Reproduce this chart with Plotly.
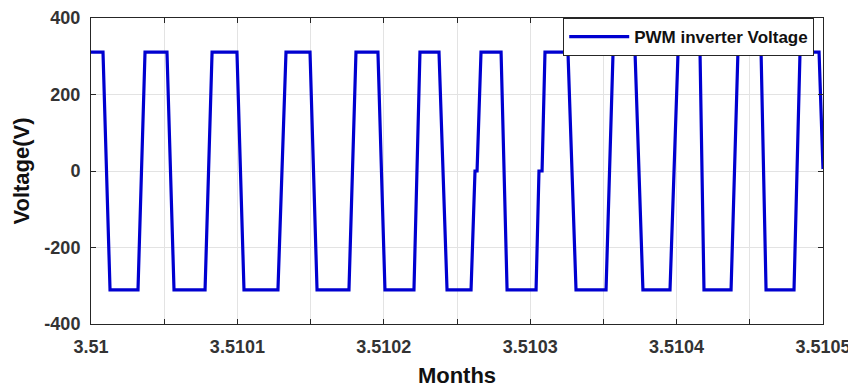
import plotly.graph_objects as go

# Time (months) and voltage samples of the PWM inverter output
months = [
    3.5100000, 3.5100082, 3.5100130, 3.5100321, 3.5100369, 3.5100519,
    3.5100567, 3.5100779, 3.5100827, 3.5100997, 3.5101045, 3.5101277,
    3.5101332, 3.5101496, 3.5101544, 3.5101762, 3.5101810, 3.5101960,
    3.5102008, 3.5102206, 3.5102247, 3.5102377, 3.5102432, 3.5102596,
    3.5102623, 3.5102637, 3.5102664, 3.5102801, 3.5102842, 3.5103040,
    3.5103060, 3.5103081, 3.5103101, 3.5103258, 3.5103313, 3.5103518,
    3.5103566, 3.5103716, 3.5103770, 3.5103955, 3.5104010, 3.5104160,
    3.5104187, 3.5104372, 3.5104419, 3.5104577, 3.5104611, 3.5104802,
    3.5104843, 3.5104973, 3.5105000,
]
voltage = [
    311, 311, -311, -311, 311, 311,
    -311, -311, 311, 311, -311, -311,
    311, 311, -311, -311, 311, 311,
    -311, -311, 311, 311, -311, -311,
    0, 0, 311, 311, -311, -311,
    0, 0, 311, 311, -311, -311,
    311, 311, -311, -311, 311, 311,
    -311, -311, 311, 311, -311, -311,
    311, 311, 5,
]

x_tickvals = [3.51, 3.51005, 3.5101, 3.51015, 3.5102, 3.51025, 3.5103,
              3.51035, 3.5104, 3.51045, 3.5105]
x_ticktext = ["3.51", "", "3.5101", "", "3.5102", "", "3.5103", "",
              "3.5104", "", "3.5105"]
y_tickvals = [-400, -200, 0, 200, 400]
y_ticktext = ["-400", "-200", "0", "200", "400"]

series_name = "PWM inverter Voltage"

fig = go.Figure()
fig.add_trace(go.Scatter(
    x=months, y=voltage, mode="lines", name=series_name,
    line=dict(color="#0000d0", width=3.2),
))

axis_common = dict(
    showline=True, linecolor="#262626", linewidth=1, mirror="ticks",
    ticks="inside", ticklen=5, tickcolor="#262626",
    showgrid=True, gridcolor="#e3e3e3", gridwidth=1,
    zeroline=False, automargin=False,
    tickfont=dict(family="Liberation Sans", size=18, color="#333333", weight="bold"),
)

fig.update_layout(
    width=848, height=380,
    margin=dict(l=83, r=33, t=10, b=64),
    paper_bgcolor="white", plot_bgcolor="white",
    showlegend=True,
    legend=dict(
        x=0.988, y=1.0, xanchor="right", yanchor="top",
        bgcolor="white", bordercolor="#262626", borderwidth=1,
        font=dict(family="Liberation Sans", size=17, color="#111111", weight="bold"),
        itemwidth=60,
    ),
    xaxis=dict(
        **axis_common,
        range=[3.51, 3.5105],
        tickmode="array", tickvals=x_tickvals, ticktext=x_ticktext,
        ticklabelstandoff=6,
        title=dict(text="Months", standoff=16,
                   font=dict(family="Liberation Sans", size=22, color="#111111", weight="bold")),
    ),
    yaxis=dict(
        **axis_common,
        range=[-400, 400],
        tickmode="array", tickvals=y_tickvals, ticktext=y_ticktext,
        ticklabelstandoff=6,
        title=dict(text="Voltage(V)", standoff=8,
                   font=dict(family="Liberation Sans", size=22, color="#111111", weight="bold")),
    ),
)

fig.write_html("out.html")
